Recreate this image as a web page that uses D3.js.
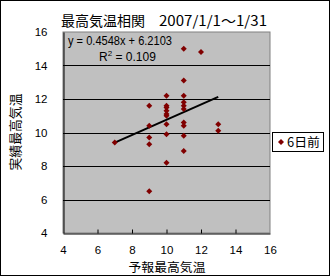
<!DOCTYPE html>
<html>
<head>
<meta charset="utf-8">
<script src="https://cdn.jsdelivr.net/npm/d3@7"></script>
<style>
  body { margin: 0; background: #fff; }
  svg text { font-family: "Liberation Sans", Arial, sans-serif; }
  .jp { font-family: "Noto Sans CJK JP", sans-serif; }
</style>
</head>
<body>
<div id="chart"></div>
<script>
// forecast max temp (x) vs actual max temp (y), 6 days ahead
const forecast = [7, 9, 9, 9, 9, 9, 10, 10, 10, 10, 10, 10, 10, 10, 10,
  11, 11, 11, 11, 11, 11, 11, 11, 11, 11, 12, 13, 13];
const actual = [9.4, 11.6, 10.4, 9.7, 9.3, 6.5, 12.2, 11.6, 11.5, 11.3, 11.1, 11.0, 10.5, 9.9, 8.2,
  15.0, 13.1, 12.2, 11.8, 11.6, 11.4, 10.6, 10.4, 9.8, 8.9, 14.8, 10.5, 10.1];
const xTicks = [4, 6, 8, 10, 12, 14, 16];
const yTicks = [4, 6, 8, 10, 12, 14, 16];
const slope = 0.4548, intercept = 6.2103;
const seriesName = "6日前";

const W = 331, H = 278;
const plot = { left: 63, top: 32, right: 270, bottom: 233 };

const svg = d3.select("#chart").append("svg")
    .attr("width", W)
    .attr("height", H);

// outer border
svg.append("rect")
    .attr("x", 0.5).attr("y", 0.5)
    .attr("width", 329).attr("height", 275)
    .attr("fill", "#fff").attr("stroke", "#000");

const x = d3.scaleLinear().domain([4, 16]).range([plot.left, plot.right]);
const y = d3.scaleLinear().domain([4, 16]).range([plot.bottom, plot.top]);

// plot area
svg.append("rect")
    .attr("x", plot.left).attr("y", plot.top)
    .attr("width", plot.right - plot.left).attr("height", plot.bottom - plot.top)
    .attr("fill", "#c0c0c0").attr("stroke", "#808080");

// gridlines
svg.append("g").selectAll("line")
    .data(yTicks.filter(d => d > 4 && d < 16))
    .enter().append("line")
    .attr("x1", plot.left).attr("x2", plot.right)
    .attr("y1", d => Math.round(y(d)) + 0.5).attr("y2", d => Math.round(y(d)) + 0.5)
    .attr("stroke", "#000");

// axes
const xAxis = svg.append("g")
    .attr("transform", `translate(0,${plot.bottom + 0.5})`)
    .call(d3.axisBottom(x).tickValues(xTicks).tickSizeInner(-4).tickSizeOuter(0).tickPadding(12));
const yAxis = svg.append("g")
    .attr("transform", `translate(${plot.left + 0.5},0)`)
    .call(d3.axisLeft(y).tickValues(yTicks).tickSizeInner(0).tickSizeOuter(0).tickPadding(16));
[xAxis, yAxis].forEach(a => {
  a.select(".domain").attr("stroke", "#000");
  a.selectAll(".tick line").attr("stroke", "#000");
  a.selectAll(".tick text").attr("font-size", 11.5).attr("fill", "#000");
});
xAxis.selectAll(".tick line").filter(d => d === 4 || d === 16).remove();

// trend line
const x0 = d3.min(forecast), x1 = d3.max(forecast);
svg.append("line")
    .attr("x1", x(x0)).attr("y1", y(slope * x0 + intercept))
    .attr("x2", x(x1)).attr("y2", y(slope * x1 + intercept))
    .attr("stroke", "#000").attr("stroke-width", 2);

// points
const diamond = d3.symbol().type(d3.symbolSquare).size(18);
svg.append("g").selectAll("path")
    .data(forecast.map((f, i) => ({ f: f, a: actual[i] })))
    .enter().append("path")
    .attr("d", diamond)
    .attr("transform", d => `translate(${x(d.f)},${y(d.a)}) rotate(45)`)
    .attr("fill", "#800000");

// equation label
svg.append("text")
    .attr("x", 68).attr("y", 45)
    .attr("font-size", 12)
    .attr("textLength", 104).attr("lengthAdjust", "spacingAndGlyphs")
    .text(`y = ${slope}x + ${intercept}`);
const r2 = svg.append("text")
    .attr("x", 99).attr("y", 61)
    .attr("font-size", 12);
r2.append("tspan").text("R");
r2.append("tspan").attr("dy", -5).attr("font-size", 8).text("2");
r2.append("tspan").attr("dy", 5).text(" = 0.109");

// title
svg.append("text").attr("class", "jp")
    .attr("x", 61).attr("y", 26)
    .attr("font-size", 14)
    .attr("textLength", 84).attr("lengthAdjust", "spacingAndGlyphs")
    .text("最高気温相関");
svg.append("text").attr("class", "jp")
    .attr("x", 159).attr("y", 26)
    .attr("font-size", 14)
    .attr("textLength", 108).attr("lengthAdjust", "spacingAndGlyphs")
    .text("2007/1/1～1/31");

// axis titles
svg.append("text").attr("class", "jp")
    .attr("x", 167).attr("y", 272)
    .attr("text-anchor", "middle")
    .attr("font-size", 12.5)
    .attr("textLength", 77).attr("lengthAdjust", "spacingAndGlyphs")
    .text("予報最高気温");
svg.append("text").attr("class", "jp")
    .attr("transform", "translate(20,132) rotate(-90)")
    .attr("text-anchor", "middle")
    .attr("font-size", 13)
    .attr("textLength", 77).attr("lengthAdjust", "spacingAndGlyphs")
    .text("実績最高気温");

// legend
const lg = svg.append("g").attr("transform", "translate(272,132)");
lg.append("rect")
    .attr("x", 0.5).attr("y", 0.5).attr("width", 51).attr("height", 19)
    .attr("fill", "#fff").attr("stroke", "#000");
lg.append("path")
    .attr("d", diamond)
    .attr("transform", "translate(9,10) rotate(45)")
    .attr("fill", "#800000");
lg.append("text").attr("class", "jp")
    .attr("x", 15).attr("y", 15)
    .attr("font-size", 12.5)
    .attr("textLength", 33).attr("lengthAdjust", "spacingAndGlyphs")
    .text(seriesName);
</script>
</body>
</html>
